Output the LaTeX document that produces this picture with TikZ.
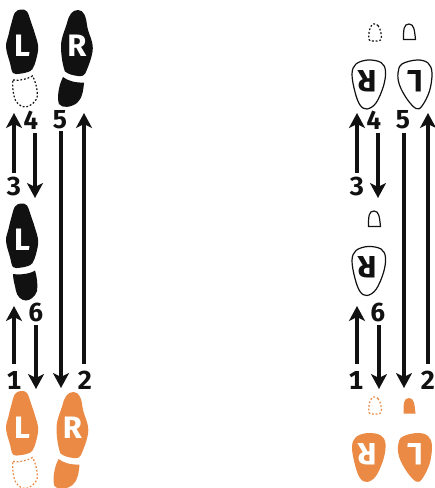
\documentclass[tikz,border=0pt]{standalone}
\usepackage{fontspec}
\setmainfont{Fira Sans}[Numbers=Monospaced]
\usetikzlibrary{arrows.meta}
\definecolor{ink}{HTML}{111111}
\definecolor{tan}{HTML}{EA8A45}
\tikzset{
  num/.style={inner sep=0pt,font=\fontsize{26}{26}\selectfont\bfseries,text=ink},
  letter/.style={inner sep=0pt,font=\fontsize{31}{31}\selectfont\bfseries,text=white},
  letterb/.style={inner sep=0pt,font=\fontsize{31}{31}\selectfont\bfseries,text=ink,rotate=180},
  lettero/.style={inner sep=0pt,font=\fontsize{31}{31}\selectfont\bfseries,text=white,rotate=180},
  walk/.style={line width=3.5pt,draw=ink,-{Stealth[length=15pt,width=16pt,inset=4pt]}},
  dot/.style={line width=1.2pt,dash pattern=on 1.8pt off 1.9pt},
  thin/.style={line width=1.2pt},
  blob/.style={smooth cycle,tension=0.6},
}
\newcommand{\soleL}{plot[blob] coordinates {(21,9.5) (27,11.5) (31,22) (35,34) (38.2,47) (36,60) (32.5,69) (28,72) (20,73.7) (13,73) (10,63) (6,47) (8.5,35) (11.5,23) (15,12.5)}}
\newcommand{\soleR}{(78,10) .. controls (84,10) and (86,17) .. (87,25) .. controls (88,33) and (92.8,40) .. (92.8,48) .. controls (92.8,56) and (88,67) .. (85.5,73) .. controls (84.5,75.5) and (82,76.5) .. (78,76) .. controls (73,75.5) and (68,74) .. (65,71.5) .. controls (62.5,65) and (61,55) .. (61,46) .. controls (61,38) and (65,30) .. (67,23) .. controls (69,15) and (72,10) .. (78,10) -- cycle}
\newcommand{\heelR}{(63,77) .. controls (68,81) and (76,83) .. (84,82.5) .. controls (83.5,90) and (82,99) .. (77,103) .. controls (71,107.5) and (62,108.5) .. (59,104) .. controls (57,99) and (58,87) .. (63,77) -- cycle}
\newcommand{\heelL}{(13,80) .. controls (20,81) and (27,79) .. (32.5,76) .. controls (36,82) and (38,92) .. (37,98) .. controls (35,103) and (29,107) .. (25,107) .. controls (20,107) and (15,102) .. (14,96) .. controls (13,91) and (12,85) .. (13,80) -- cycle}
\newcommand{\bigR}{plot[blob] coordinates {(368,60) (381,62.5) (385.5,71) (383.5,86) (376,103) (367,109) (360,105) (355,92) (352,74) (356,64)}}
\newcommand{\bigL}{plot[blob] coordinates {(417,60) (428,63) (432,73) (429.5,91) (422,106) (416,108.5) (407,99) (399.5,85) (398,73) (402,64)}}
\newcommand{\smallD}{plot[blob] coordinates {(373,24) (378,25.5) (381,33) (380.5,40) (373,41) (369,39.5) (369.5,30)}}
\newcommand{\smallS}{(403.5,39.5) .. controls (403.5,30) and (403.5,24) .. (409,24) .. controls (414,24) and (414.5,30) .. (415.5,39.5) -- cycle}
\begin{document}
\begin{tikzpicture}[x=1pt,y=-1pt]
\useasboundingbox (0,0) rectangle (435,488);
% top-left feet
\fill[ink] \soleL;
\fill[ink] \soleR;
\fill[ink] \heelR;
\draw[ink,dot] \heelL;
\node[letter] (lt) at (22,46) {L};
\node[letter] (rt) at (77,46) {R};
% middle-left
\begin{scope}[yshift=-194pt]
\fill[ink] \soleL;
\node[letter] (lm) at (22,46) {L};
\end{scope}
\fill[ink] (13,274) .. controls (20,275) and (30,274) .. (35,270.5) .. controls (37,277) and (38,285) .. (37,291) .. controls (35,297) and (30,300.5) .. (26,300.5) .. controls (21,300.5) and (17,296) .. (16,291) .. controls (15,285) and (13,280) .. (13,274) -- cycle;
% bottom-left
\begin{scope}[yshift=-381.5pt,tan]
\fill \soleL;
\draw[dot] \heelL;
\node[letter] (lb) at (22,46.5) {L};
\end{scope}
\begin{scope}[yshift=-382pt,xshift=-4.5pt,tan]
\fill \soleR;
\fill \heelR;
\node[letter] (rb) at (77,46) {R};
\end{scope}
% right column outlines
\draw[ink,thin] \bigR;
\draw[ink,thin] \bigL;
\node[letterb] (rt2) at (367,81) {R};
\node[letterb] (lt2) at (415,81) {L};
\draw[ink,dot] \smallD;
\draw[ink,thin] \smallS;
\begin{scope}[yshift=-186.5pt]
\draw[ink,thin] \bigR;
\node[letterb] (rm2) at (367,81) {R};
\end{scope}
\begin{scope}[yshift=-187pt,xshift=-35pt]
\draw[ink,thin] \smallS;
\end{scope}
\begin{scope}[yshift=-373pt,tan]
\fill \bigR;
\node[lettero] (rb2) at (367,81) {R};
\fill \bigL;
\node[lettero] (lb2) at (415,81) {L};
\draw[dot] \smallD;
\end{scope}
\begin{scope}[yshift=-374pt,tan]
\fill \smallS;
\end{scope}
% numbers
\node[num] (n1) at (14,380) {1};
\node[num] (n2) at (85,380) {2};
\node[num] (n3) at (14,186) {3};
\node[num] (n4) at (31,120) {4};
\node[num] (n5) at (60,120) {5};
\node[num] (n6) at (36,312) {6};
\node[num] (m1) at (356,380) {1};
\node[num] (m2) at (428,380) {2};
\node[num] (m3) at (357,186) {3};
\node[num] (m4) at (374,120) {4};
\node[num] (m5) at (403,120) {5};
\node[num] (m6) at (378,312) {6};
% arrow ends
\foreach \n/\x/\y in {a1/14/364,a1e/14/306,a2/84/364,a2e/84/113,a3/14/173,a3e/14/113,a4/35/133,a4e/35/198,a5/61/131,a5e/61/388,a6/36/325,a6e/36/389,
 b1/357/364,b1e/357/306,b2/428/364,b2e/428/113,b3/357/173,b3e/357/113,b4/378/133,b4e/378/198,b5/404/133,b5e/404/388,b6/379/325,b6e/379/389}
  {\coordinate (\n) at (\x,\y);}
\foreach \s/\e in {a1/a1e,a2/a2e,a3/a3e,a4/a4e,a5/a5e,a6/a6e,b1/b1e,b2/b2e,b3/b3e,b4/b4e,b5/b5e,b6/b6e}
  {\draw[walk] (\s) -- (\e);}
\end{tikzpicture}
\end{document}
